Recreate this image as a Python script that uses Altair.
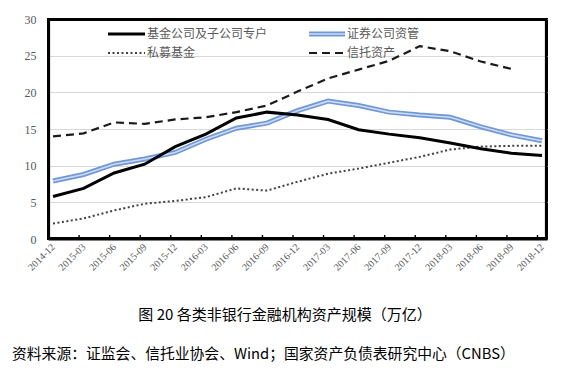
import altair as alt
import pandas as pd

periods = ["2014-12", "2015-03", "2015-06", "2015-09", "2015-12", "2016-03", "2016-06",
           "2016-09", "2016-12", "2017-03", "2017-06", "2017-09", "2017-12", "2018-03",
           "2018-06", "2018-09", "2018-12"]
fund = [5.8, 6.9, 9.0, 10.2, 12.6, 14.3, 16.5, 17.3, 16.9, 16.3, 14.9, 14.3, 13.8, 13.1, 12.3, 11.7, 11.4]
securities = [7.9, 8.8, 10.2, 10.9, 11.8, 13.6, 15.1, 15.8, 17.5, 18.8, 18.2, 17.3, 16.9, 16.6, 15.3, 14.2, 13.4]
private_fund = [2.1, 2.8, 3.9, 4.8, 5.2, 5.7, 6.9, 6.6, 7.8, 8.9, 9.6, 10.4, 11.2, 12.2, 12.6, 12.7, 12.7]
trust = [14.0, 14.4, 15.9, 15.7, 16.3, 16.6, 17.3, 18.2, 20.1, 21.9, 23.1, 24.3, 26.3, 25.6, 24.2, 23.2, None]

legend_names = ["基金公司及子公司专户", "私募基金", "证券公司资管", "信托资产"]
caption = "图 20  各类非银行金融机构资产规模（万亿）"
source = "资料来源：证监会、信托业协会、Wind；国家资产负债表研究中心（CNBS）"

W, H = 499, 220
CJK = "Noto Sans CJK SC"

df = pd.DataFrame({"period": periods, "fund": fund, "sec": securities,
                   "priv": private_fund, "trust": trust})

xaxis = alt.Axis(labelAngle=-45, labelAlign="right", labelBaseline="middle",
                 labelPadding=6, ticks=False, labelFont="Liberation Serif",
                 labelFontSize=10, labelColor="#595959", domainColor="black",
                 domainWidth=2, labelOverlap=False, title=None)
xscale = alt.Scale(type="point", padding=0.164)
yscale = alt.Scale(domain=[0, 30], nice=False)
yaxis = alt.Axis(values=[0, 5, 10, 15, 20, 25, 30], grid=True, gridColor="#d9d9d9",
                 gridWidth=1, ticks=False, labelPadding=12, labelFont="Liberation Serif",
                 labelFontSize=12, labelColor="#595959", domainColor="black",
                 domainWidth=2, title=None)


def xq():
    return alt.X("period:N", sort=periods, scale=xscale, axis=xaxis)


def yq(field):
    return alt.Y(f"{field}:Q", scale=yscale, axis=yaxis)


base = alt.Chart(df)

ticks = base.mark_rule(color="black", strokeWidth=1.4).encode(
    x=xq(), xOffset=alt.value(-4.5),
    y=alt.value(H), y2=alt.value(H - 4))

priv_line = base.mark_line(color="#404040", strokeWidth=2, strokeDash=[2, 2.5]).encode(
    x=xq(), y=yq("priv"))
trust_line = base.transform_filter("isValid(datum.trust)").mark_line(
    color="#1a1a1a", strokeWidth=2.2, strokeDash=[8, 5]).encode(x=xq(), y=yq("trust"))
sec_outer = base.mark_line(color="#7097d6", strokeWidth=5).encode(x=xq(), y=yq("sec"))
sec_inner = base.mark_line(color="#cddbf2", strokeWidth=1.6).encode(x=xq(), y=yq("sec"))
fund_line = base.mark_line(color="black", strokeWidth=3).encode(x=xq(), y=yq("fund"))

one = alt.Chart(pd.DataFrame({"a": [0]}))
BW = 2.2
border_top = one.mark_rule(color="black", strokeWidth=BW).encode(
    x=alt.value(0), x2=alt.value(W), y=alt.value(1))
border_right = one.mark_rule(color="black", strokeWidth=BW).encode(
    x=alt.value(W - 1), y=alt.value(0), y2=alt.value(H))
border_left = one.mark_rule(color="black", strokeWidth=BW).encode(
    x=alt.value(1), y=alt.value(0), y2=alt.value(H))
border_bottom = one.mark_rule(color="black", strokeWidth=BW).encode(
    x=alt.value(0), x2=alt.value(W), y=alt.value(H - 1))

leg = []
leg.append(one.mark_rule(color="black", strokeWidth=3).encode(
    x=alt.value(60), x2=alt.value(97), y=alt.value(15)))
leg.append(one.mark_rule(color="#404040", strokeWidth=2, strokeDash=[2, 2.5]).encode(
    x=alt.value(60), x2=alt.value(97), y=alt.value(34)))
leg.append(one.mark_rule(color="#7097d6", strokeWidth=5).encode(
    x=alt.value(261), x2=alt.value(297), y=alt.value(15)))
leg.append(one.mark_rule(color="#cddbf2", strokeWidth=1.6).encode(
    x=alt.value(261), x2=alt.value(297), y=alt.value(15)))
leg.append(one.mark_rule(color="#1a1a1a", strokeWidth=2.2, strokeDash=[8, 5]).encode(
    x=alt.value(261), x2=alt.value(297), y=alt.value(34)))
for name, lx, ly in zip(legend_names, [99, 99, 299, 299], [15, 34, 15, 34]):
    leg.append(one.mark_text(align="left", baseline="middle", font=CJK, fontSize=12,
                             color="#595959", text=name).encode(
        x=alt.value(lx), y=alt.value(ly)))

cap = one.mark_text(align="center", baseline="middle", font=CJK, fontSize=15,
                    color="black", text=caption).encode(x=alt.value(237), y=alt.value(296))
src = one.mark_text(align="left", baseline="middle", font=CJK, fontSize=14.8,
                    color="black", text=source).encode(x=alt.value(-36), y=alt.value(336))

chart = alt.layer(ticks, priv_line, trust_line, sec_outer, sec_inner, fund_line,
                  border_top, border_right, border_left, border_bottom,
                  *leg, cap, src).properties(
    width=W, height=H,
    autosize=alt.AutoSizeParams(type="none"),
    padding={"left": 48, "top": 19, "right": 21, "bottom": 138},
    background="white",
).configure_view(stroke="black", strokeWidth=2)

chart.save("out.html", embed_options={"renderer": "svg", "actions": False})
